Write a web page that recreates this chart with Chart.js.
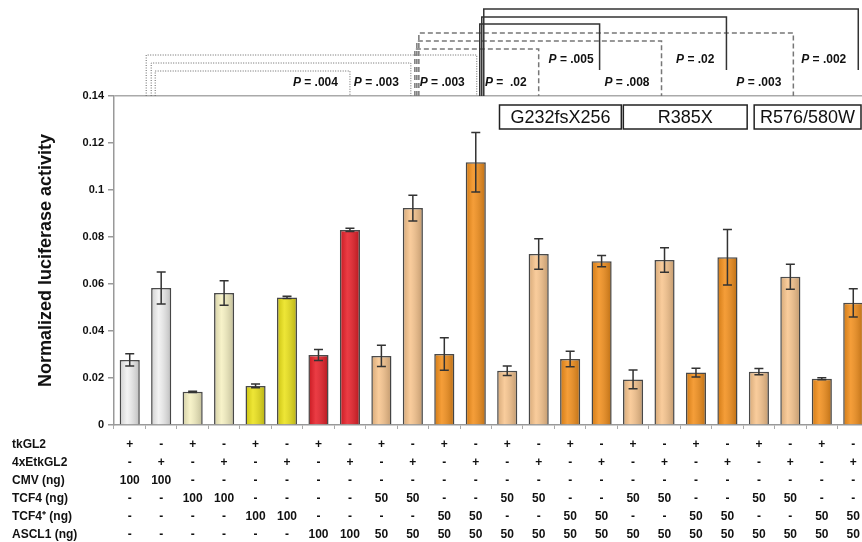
<!DOCTYPE html>
<html>
<head>
<meta charset="utf-8">
<title>Luciferase activity</title>
<script src="https://cdn.jsdelivr.net/npm/chart.js@4.4.1/dist/chart.umd.min.js"></script>
<style>
  html, body { margin: 0; padding: 0; background: #fff; overflow: hidden; }
  #wrap { width: 869px; height: 542px; }
</style>
</head>
<body>
<div id="wrap"><canvas id="luc-chart" width="869" height="542"></canvas></div>
<script>
// bar heights and error (± SD)
const values = [0.0277, 0.0583, 0.0141, 0.0562, 0.0166, 0.0543, 0.0298, 0.0830,
                0.0294, 0.0923, 0.0302, 0.1118, 0.0231, 0.0728, 0.0281, 0.0697,
                0.0194, 0.0702, 0.0223, 0.0714, 0.0227, 0.0631, 0.0197, 0.0520];
const errors = [0.0026, 0.0068, 0.0003, 0.0052, 0.0008, 0.0005, 0.0023, 0.0007,
                0.0045, 0.0055, 0.0069, 0.0127, 0.0020, 0.0065, 0.0033, 0.0024,
                0.0040, 0.0052, 0.0019, 0.0118, 0.0013, 0.0053, 0.0004, 0.0060];

const WHITE = '#f1f1f1', PALE = '#f6f1c2', YELLOW = '#ebe21a', RED = '#e8212a',
      TAN = '#f8c58e', ORANGE = '#f3901d';
const barColors = [WHITE, WHITE, PALE, PALE, YELLOW, YELLOW, RED, RED,
                   TAN, TAN, ORANGE, ORANGE, TAN, TAN, ORANGE, ORANGE,
                   TAN, TAN, ORANGE, ORANGE, TAN, TAN, ORANGE, ORANGE];

// transfection table under the bars
const rowNames = ['tkGL2', '4xEtkGL2', 'CMV (ng)', 'TCF4 (ng)', 'TCF4\u207A (ng)', 'ASCL1 (ng)'];
const tkGL2    = ['+','-','+','-','+','-','+','-','+','-','+','-','+','-','+','-','+','-','+','-','+','-','+','-'];
const exTkGL2  = ['-','+','-','+','-','+','-','+','-','+','-','+','-','+','-','+','-','+','-','+','-','+','-','+'];
const cmv      = ['100','100','-','-','-','-','-','-','-','-','-','-','-','-','-','-','-','-','-','-','-','-','-','-'];
const tcf4     = ['-','-','100','100','-','-','-','-','50','50','-','-','50','50','-','-','50','50','-','-','50','50','-','-'];
const tcf4Plus = ['-','-','-','-','100','100','-','-','-','-','50','50','-','-','50','50','-','-','50','50','-','-','50','50'];
const ascl1    = ['-','-','-','-','-','-','100','100','50','50','50','50','50','50','50','50','50','50','50','50','50','50','50','50'];

const yTickLabels = ['0', '0.02', '0.04', '0.06', '0.08', '0.1', '0.12', '0.14'];

// significance brackets (bar indices, 0-based)
const comparisons = [
  { from: 1,  fromDx: -6,  to: 7,  toDx: 0,  level: 71, style: 'dotted', p: '.004' },
  { from: 1,  fromDx: -10, to: 9,  toDx: -2, level: 63, style: 'dotted', p: '.003' },
  { from: 1,  fromDx: -15, to: 11, toDx: 1,  level: 55, style: 'dotted', p: '.003' },
  { from: 9,  fromDx: 2,   to: 13, toDx: 0,  level: 49, style: 'dashed', p: ' .02' },
  { from: 9,  fromDx: 4,   to: 17, toDx: -3, level: 41, style: 'dashed', p: '.008' },
  { from: 9,  fromDx: 6,   to: 21, toDx: 3,  level: 33, style: 'dashed', p: '.003' },
  { from: 11, fromDx: 4,   to: 15, toDx: -2, level: 24, style: 'solid',  p: '.005' },
  { from: 11, fromDx: 6,   to: 19, toDx: -1, level: 17, style: 'solid',  p: '.02' },
  { from: 11, fromDx: 8,   to: 23, toDx: 5,  level: 9,  style: 'solid',  p: '.002' }
];
const mutations = [
  { text: 'G232fsX256', from: 12, to: 15, dl: 8,  dr: 4 },
  { text: 'R385X',      from: 16, to: 19, dl: 6,  dr: 4 },
  { text: 'R576/580W',  from: 20, to: 23, dl: 11, dr: -8 }
];

const FONT = 'Arial, "Liberation Sans", sans-serif';
const TICK_LEN = 4, TICK_PAD = 7, ROW_H = 18;

const categories = values.map((v, i) =>
  [tkGL2[i], exTkGL2[i], cmv[i], tcf4[i], tcf4Plus[i], ascl1[i]]);

const lineStyles = {
  dotted: { color: '#666', width: 1, dash: [1, 1.5], labelY: 83, legEnd: null },
  dashed: { color: '#777', width: 1.5, dash: [5, 3], labelY: 83, legEnd: null },
  solid:  { color: '#333', width: 1.5, dash: [], labelY: 60, legEnd: 70 }
};

// bar shading + error bars
const errorBars = {
  id: 'errorBars',
  afterDatasetsDraw(chart) {
    const ctx = chart.ctx;
    const y = chart.scales.y;
    const meta = chart.getDatasetMeta(0);
    ctx.save();
    meta.data.forEach(bar => {
      const left = bar.x - bar.width / 2 + 1;
      const right = bar.x + bar.width / 2 - 1;
      const g = ctx.createLinearGradient(left, 0, right, 0);
      g.addColorStop(0, 'rgba(0,0,0,0.12)');
      g.addColorStop(0.35, 'rgba(255,255,255,0.12)');
      g.addColorStop(1, 'rgba(0,0,0,0.2)');
      ctx.fillStyle = g;
      ctx.fillRect(left, bar.y + 1, right - left, bar.base - bar.y - 1);
    });
    ctx.strokeStyle = '#333';
    ctx.lineWidth = 1.5;
    meta.data.forEach((bar, i) => {
      const hi = y.getPixelForValue(values[i] + errors[i]);
      const lo = y.getPixelForValue(values[i] - errors[i]);
      ctx.beginPath();
      ctx.moveTo(bar.x, hi); ctx.lineTo(bar.x, lo);
      ctx.moveTo(bar.x - 4.5, hi); ctx.lineTo(bar.x + 4.5, hi);
      ctx.moveTo(bar.x - 4.5, lo); ctx.lineTo(bar.x + 4.5, lo);
      ctx.stroke();
    });
    ctx.restore();
  }
};

// P-value brackets, mutation boxes and the row names of the table
const annotations = {
  id: 'annotations',
  afterDraw(chart) {
    const ctx = chart.ctx;
    const x = chart.scales.x;
    const top = chart.chartArea.top;
    ctx.save();
    comparisons.forEach(c => {
      const s = lineStyles[c.style];
      const x1 = x.getPixelForValue(c.from) + c.fromDx;
      const x2 = x.getPixelForValue(c.to) + c.toDx;
      ctx.strokeStyle = s.color;
      ctx.lineWidth = s.width;
      ctx.setLineDash(s.dash);
      ctx.beginPath();
      ctx.moveTo(x1, top);
      ctx.lineTo(x1, c.level);
      ctx.lineTo(x2, c.level);
      ctx.lineTo(x2, s.legEnd || top);
      ctx.stroke();

      ctx.setLineDash([]);
      ctx.fillStyle = '#111';
      ctx.textBaseline = 'middle';
      ctx.textAlign = 'left';
      const restTxt = c.p.startsWith(' ') ? ' =  ' + c.p.trim() : ' = ' + c.p;
      ctx.font = 'bold 12px ' + FONT;
      const wRest = ctx.measureText(restTxt).width;
      ctx.font = 'bold italic 12px ' + FONT;
      const wP = ctx.measureText('P').width;
      const gap = c.p === '.005' ? 6 : 12;
      const xr = x2 - gap;
      ctx.fillText('P', xr - wRest - wP, s.labelY);
      ctx.font = 'bold 12px ' + FONT;
      ctx.fillText(restTxt, xr - wRest, s.labelY);
    });

    mutations.forEach(m => {
      const l = x.getPixelForValue(m.from - 0.5) + m.dl;
      const r = x.getPixelForValue(m.to + 0.5) + m.dr;
      ctx.strokeStyle = '#222';
      ctx.lineWidth = 1.5;
      ctx.strokeRect(l, 105, r - l, 24);
      ctx.fillStyle = '#111';
      ctx.font = '18px ' + FONT;
      ctx.textAlign = 'center';
      ctx.textBaseline = 'middle';
      ctx.fillText(m.text, (l + r) / 2, 118);
    });

    ctx.font = 'bold 12px ' + FONT;
    ctx.fillStyle = '#111';
    ctx.textAlign = 'left';
    ctx.textBaseline = 'middle';
    rowNames.forEach((name, r) => {
      ctx.fillText(name, 12, x.top + TICK_LEN + TICK_PAD + ROW_H / 2 + r * ROW_H);
    });
    ctx.restore();
  }
};

const ctx = document.getElementById('luc-chart').getContext('2d');
new Chart(ctx, {
  type: 'bar',
  data: {
    labels: categories,
    datasets: [{
      data: values,
      backgroundColor: barColors,
      borderColor: '#4a4a4a',
      borderWidth: 1.5,
      barPercentage: 0.64,
      categoryPercentage: 1
    }]
  },
  options: {
    responsive: false,
    animation: false,
    devicePixelRatio: 1,
    layout: { padding: { top: 96, right: 0, left: 0, bottom: 0 } },
    plugins: { legend: { display: false }, tooltip: { enabled: false } },
    scales: {
      x: {
        offset: true,
        grid: { display: true, drawOnChartArea: false, tickLength: TICK_LEN, tickColor: '#aaa', offset: true },
        border: { display: true, color: '#999', width: 1.5 },
        ticks: {
          autoSkip: false, maxRotation: 0, minRotation: 0, padding: TICK_PAD,
          color: '#111',
          font: { family: FONT, size: 12, weight: 'bold', lineHeight: 1.5 }
        },
        afterFit: scale => { scale.height = 117; }
      },
      y: {
        min: 0, max: 0.14,
        ticks: {
          stepSize: 0.02, padding: 4, color: '#111',
          font: { family: FONT, size: 11, weight: 'bold' },
          callback: (v, i) => yTickLabels[i]
        },
        grid: {
          tickLength: 6, tickColor: '#999', lineWidth: 1.5,
          color: c => (c.index === yTickLabels.length - 1 ? '#aaa' : 'rgba(0,0,0,0)')
        },
        border: { display: true, color: '#999', width: 1.5 },
        title: {
          display: true, text: 'Normalized luciferase activity', color: '#111',
          font: { family: FONT, size: 18, weight: 'bold' },
          padding: { top: 35, bottom: 0 }
        },
        afterFit: scale => { scale.width = 114; }
      }
    }
  },
  plugins: [errorBars, annotations]
});
</script>
</body>
</html>
